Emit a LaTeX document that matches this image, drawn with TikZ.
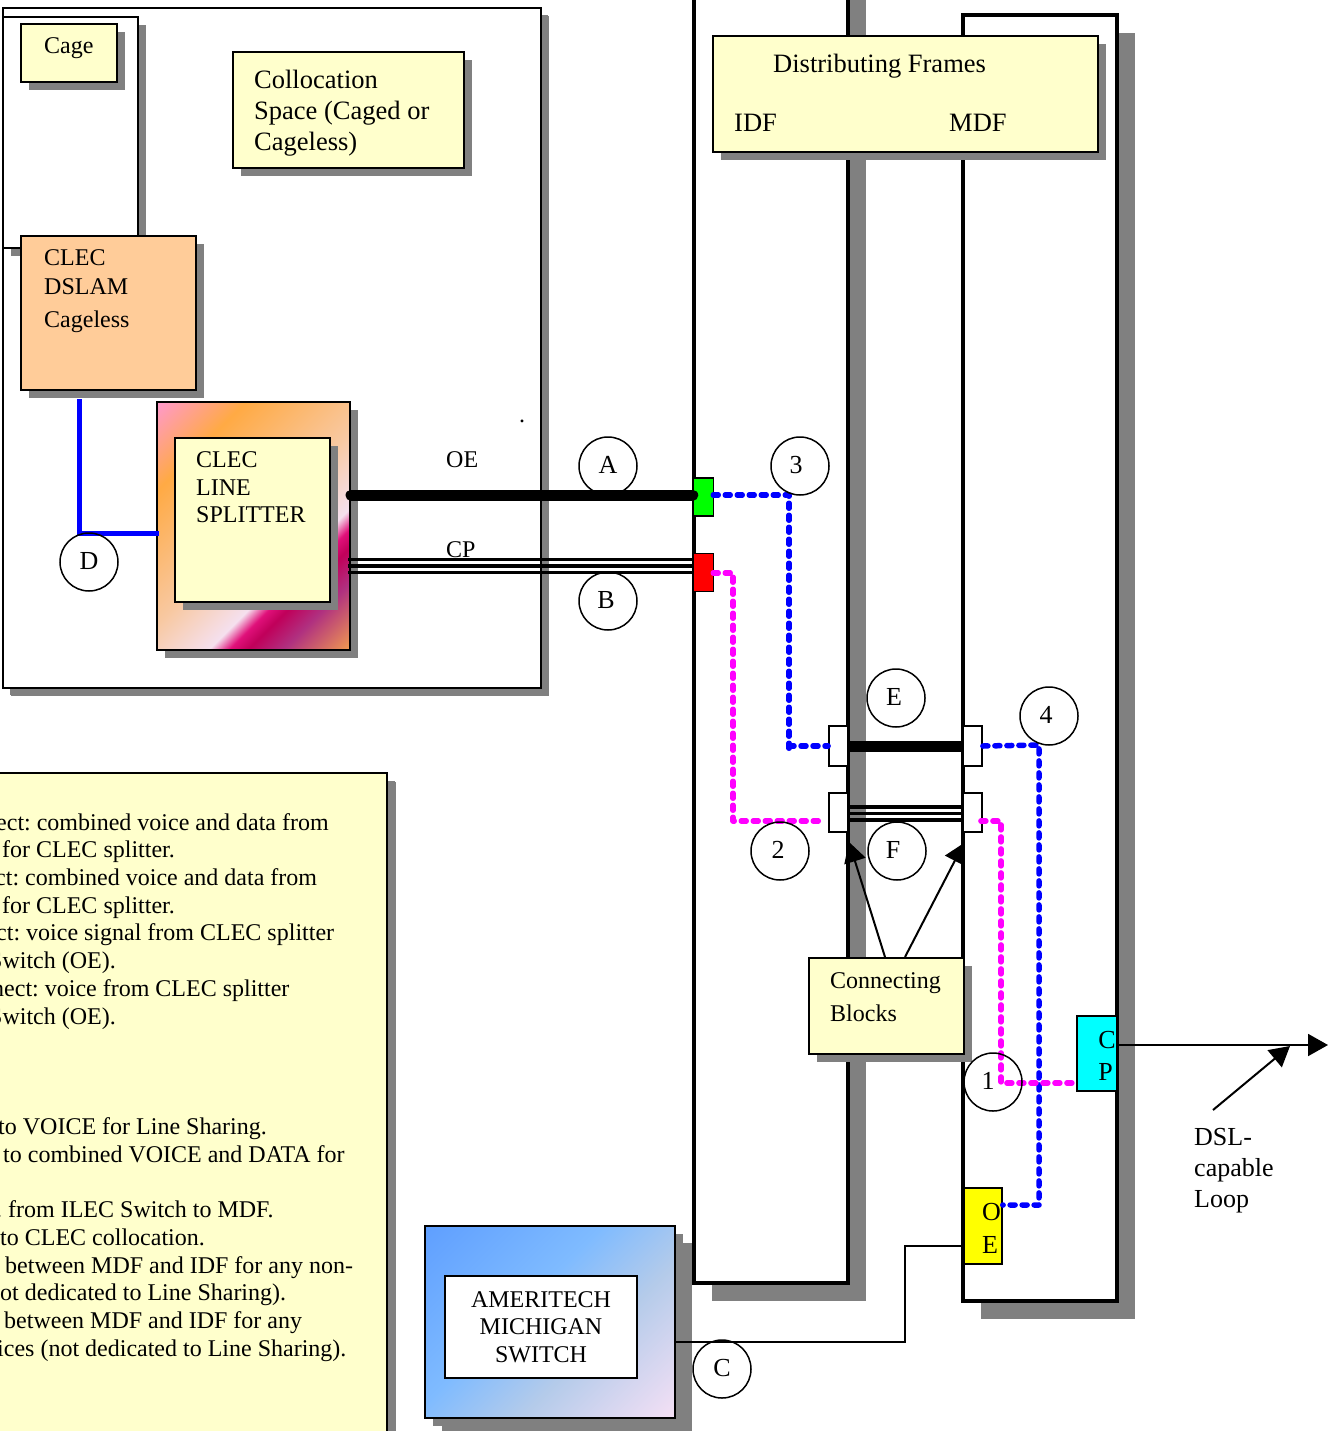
\documentclass[tikz,border=0pt]{standalone}
\usepackage{fontspec}
\setmainfont{Liberation Serif}
\usepackage{tikz}
\usetikzlibrary{arrows.meta, positioning}
\usetikzlibrary{calc, shadows}
\definecolor{NoteYellow}{HTML}{FFFFCC}
\definecolor{DslamPeach}{HTML}{FFCC99}
\definecolor{PadGreen}{HTML}{00FF00}
\definecolor{PadRed}{HTML}{FF0000}
\definecolor{PadCyan}{HTML}{00FFFF}
\definecolor{PadYellow}{HTML}{FFFF00}
\definecolor{WireBlue}{HTML}{0000FF}
\definecolor{WirePink}{HTML}{FF00FF}
\definecolor{SpA}{HTML}{FF99CC}
\definecolor{SpB}{HTML}{FFAA44}
\definecolor{SpC}{HTML}{F8C8A0}
\definecolor{SpD}{HTML}{F5E0EE}
\definecolor{SpE}{HTML}{E0107A}
\definecolor{SpF}{HTML}{C0005A}
\definecolor{SpG}{HTML}{B03080}
\definecolor{SpH}{HTML}{F09A50}
\definecolor{SwA}{HTML}{5F9FFF}
\definecolor{SwB}{HTML}{7FBBFF}
\definecolor{SwC}{HTML}{B4CBEA}
\definecolor{SwD}{HTML}{F5E0F5}
\pgfdeclarehorizontalshading{splittershade}{100bp}{
    color(0bp)=(SpA); color(14.6bp)=(SpA); color(28.7bp)=(SpB); color(50bp)=(SpC); color(62.7bp)=(SpD);
    color(66bp)=(SpE); color(69bp)=(SpF); color(74.7bp)=(SpG); color(85.4bp)=(SpH); color(100bp)=(SpH)}
\pgfdeclarehorizontalshading{switchshade}{100bp}{
    color(0bp)=(SwA); color(14.6bp)=(SwA); color(43bp)=(SwB); color(60.6bp)=(SwC); color(85.4bp)=(SwD); color(100bp)=(SwD)}
\newcommand{\marktext}[2][0]{\raisebox{3pt}{\kern#1pt #2}}

\begin{document}
\begin{tikzpicture}[
        x=1pt, y=-1pt,
        every node/.style={inner sep=0pt, font=\frenchspacing\fontsize{24}{27.5}\selectfont},
        shbox/.style={drop shadow={shadow xshift=#1, shadow yshift=-#1, opacity=1, fill=gray}},
        shbox/.default=8pt,
        box/.style={draw, line width=2pt, fill=NoteYellow, shbox},
        bar/.style={draw, line width=4pt, fill=white, shbox=18pt},
        block/.style={draw, line width=1.8pt, fill=white, minimum width=19pt},
        pinbox/.style={draw, line width=1.5pt, minimum width=20pt, minimum height=38pt},
        txt/.style={anchor=west, align=left},
        bigtxt/.style={txt, font=\fontsize{26.5}{31}\selectfont},
        markcircle/.style={draw, circle, line width=1.5pt, minimum size=58pt, font=\fontsize{26}{27}\selectfont},
        fat/.style={line width=11pt, line cap=round},
        strand/.style={line width=3.4pt},
        wire/.style={line width=2pt},
        pointer/.style={line width=2pt, -{Triangle[length=20pt, width=22pt]}},
        jumper/.style={line width=5.5pt, line cap=round, line join=round, dash pattern=on 5pt off 7pt}
    ]
        \useasboundingbox (0,0) rectangle (1329,1431);

        \node[box, fill=white, shbox=7pt, minimum width=538pt, minimum height=680pt] (room) at (272,348) {};
        \node[box, fill=white, minimum width=135pt, minimum height=231pt] (cageout) at (70.5,132.5) {};
        \node[box, minimum width=96pt, minimum height=58pt] (cage) at (69,53) {};
        \node[box, minimum width=231pt, minimum height=116pt] (colloc) at (348.5,110) {};
        \node[box, fill=DslamPeach, minimum width=175pt, minimum height=154pt] (dslam) at (108.5,313) {};
        \node[box, shading=splittershade, shading angle=-45, minimum width=193pt, minimum height=248pt] (splitout) at (253.5,526) {};
        \node[box, minimum width=155pt, minimum height=164pt] (splitin) at (252.5,520) {};

        \node[box, shbox=9pt, minimum width=397pt, minimum height=672pt] (legend) at (188.5,1109) {};
        \node[box, shbox=17pt, shading=switchshade, shading angle=-45, minimum width=250pt, minimum height=192pt] (switchout) at (550,1322) {};
        \node[draw, line width=2pt, fill=white, align=center, minimum width=192pt, minimum height=102pt] (switchin) at (541,1327) {AMERITECH\\MICHIGAN\\SWITCH};

        \node[bar, minimum width=154pt, minimum height=1303pt] (idf) at (771,631.5) {};
        \node[bar, minimum width=154pt, minimum height=1286pt] (mdf) at (1040,658) {};
        \node[box, minimum width=385pt, minimum height=116pt] (frames) at (905.5,94) {};

        \node[pinbox, fill=PadGreen] (oepin) at (703.5,497) {};
        \node[pinbox, fill=PadRed] (cppin) at (703.5,572.5) {};
        \node[block, minimum height=40pt] (blockA) at (838.5,746) {};
        \node[block, minimum height=40pt] (blockB) at (972.5,746) {};
        \node[block, minimum height=39pt] (blockC) at (838.5,812.5) {};
        \node[block, minimum height=39pt] (blockD) at (972.5,812.5) {};
        \node[draw, line width=1.5pt, fill=PadCyan, minimum width=40pt, minimum height=75pt, align=left, font=\fontsize{26}{32}\selectfont] (cpbox) at (1097,1053.5) {\hspace*{20pt}\rule{0pt}{22pt}C\\\hspace*{20pt}P};
        \node[draw, line width=1.5pt, fill=PadYellow, minimum width=38pt, minimum height=76pt, align=left, font=\fontsize{26}{33}\selectfont] (oebox) at (983,1226) {\hspace*{17pt}\rule{0pt}{22pt}O\\\hspace*{17pt}E};

        \node[txt] (cagetxt) at (44,48.5) {Cage};
        \node[bigtxt] (colloctxt) at (254,113) {Collocation\\Space (Caged or\\Cageless)};
        \node[txt, font=\fontsize{24}{29}\selectfont] (dslamtxt) at (44,291) {CLEC\\DSLAM\\[4pt]Cageless};
        \node[txt] (splittxt) at (196,487.5) {CLEC\\LINE\\SPLITTER};
        \node[bigtxt] (framestxt) at (773,66) {Distributing Frames};
        \node[bigtxt] (idftxt) at (734,123) {IDF};
        \node[bigtxt] (mdftxt) at (949,123) {MDF};
        \node[box, minimum width=155pt, minimum height=96pt] (connect) at (886.5,1006) {};
        \node[txt, font=\fontsize{24}{33}\selectfont] (blockstxt) at (830,997) {Connecting\\Blocks};
        \node[txt, font=\fontsize{26}{31}\selectfont] (dsltxt) at (1194,1170.5) {DSL-\\capable\\Loop};
        \node[txt] (oetxt) at (446,460) {OE};
        \node[txt] (cptxt) at (446,550) {CP};
        \node[txt] (dot) at (519,421) {.};

        \node[anchor=north west, align=left, font=\frenchspacing\fontsize{24}{27.7}\selectfont] (legendtxt) at (0,813) {
            \hspace*{-4pt}ect: combined voice and data from\\
            \hspace*{2pt}for CLEC splitter.\\
            \hspace*{-5pt}ct: combined voice and data from\\
            \hspace*{2pt}for CLEC splitter.\\
            \hspace*{-4pt}ct: voice signal from CLEC splitter\\
            \hspace*{-11pt}Switch (OE).\\
            \hspace*{-8pt}nect: voice from CLEC splitter\\
            \hspace*{-11pt}Switch (OE).\\[83pt]
            \hspace*{-2pt}to VOICE for Line Sharing.\\
            \hspace*{3pt}to combined VOICE and DATA for\\[27.7pt]
            \hspace*{-4pt}. from ILEC Switch to MDF.\\
            to CLEC collocation.\\
            \hspace*{5pt}between MDF and IDF for any non-\\
            ot dedicated to Line Sharing).\\
            \hspace*{4pt}between MDF and IDF for any\\
            \hspace*{-3pt}ices (not dedicated to Line Sharing).};

        \coordinate (dbend) at (79,533);
        \coordinate (bluetop) at (789,495);
        \coordinate (bluelow) at (789,752);
        \coordinate (blueright) at (1039,745);
        \coordinate (blueoe) at (1039,1205);
        \coordinate (pinktop) at (733,573);
        \coordinate (pinklow) at (733,821);
        \coordinate (pinkright) at (1001,821);
        \coordinate (pinkcp) at (1001,1083);
        \coordinate (cbendA) at (905,1342);
        \coordinate (cbendB) at (905,1246);
        \coordinate (loopend) at (1328,1045);
        \coordinate (loopfoot) at (1213,1110);
        \coordinate (looptip) at (1290,1046);
        \coordinate (tipA) at (849,842);
        \coordinate (tipB) at (964,843);

        \draw[line width=5pt, WireBlue] ($(dbend |- dslam.south)+(0,8)$) -- (dbend) -- ($(splitout.west |- dbend)+(3,0)$);
        \draw[fat] ($(splitout.east |- oepin.west)+(0,-2)$) -- ($(oepin.west)+(0,-2)$);
        \foreach \dy in {0,-6.5,-13}
            \draw[strand] ($(splitout.east |- cppin.west)+(-3,\dy)$) -- ($(cppin.west)+(0,\dy)$);
        \draw[fat, line cap=butt] (blockA.east) -- (blockB.west);
        \foreach \dy in {-5.5,1,7.5}
            \draw[strand] ($(blockC.east)+(0,\dy)$) -- ($(blockD.west)+(0,\dy)$);
        \draw[wire] (switchout.east |- cbendA) -- (cbendA) -- (cbendB) -- (oebox.west |- cbendB);
        \draw[wire, -{Triangle[length=20pt, width=22pt]}] (cpbox.east |- loopend) -- (loopend);
        \draw[pointer] (loopfoot) -- (looptip);
        \draw[pointer] ($(connect.north)+(-1.5,0)$) -- (tipA);
        \draw[pointer] ($(connect.north)+(18.5,0)$) -- (tipB);

        \draw[jumper, WireBlue] ($(oepin.east |- bluetop)+(-1,0)$) -- (bluetop) -- (bluelow);
        \draw[jumper, WireBlue] (bluelow |- blockA.west) -- (blockA.west);
        \draw[jumper, WireBlue] (blockB.east) -- (blueright) -- (blueoe) -- (oebox.east |- blueoe);
        \draw[jumper, WirePink] ($(cppin.east |- pinktop)+(-1,0)$) -- (pinktop) -- (pinklow) -- ($(blockC.west |- pinklow)+(-3,0)$);
        \draw[jumper, WirePink] ($(blockD.east |- pinkright)+(-2,0)$) -- (pinkright) -- (pinkcp) -- (cpbox.west |- pinkcp);

        \node[markcircle] (markA) at (608,466) {\marktext{A}};
        \node[markcircle] (markB) at (608,601) {\marktext[-4]{B}};
        \node[markcircle] (markC) at (722,1369) {\marktext{C}};
        \node[markcircle] (markD) at (89,562) {\marktext{D}};
        \node[markcircle] (markE) at (896,698) {\marktext[-4]{E}};
        \node[markcircle] (markF) at (897,851) {\marktext[-8]{F}};
        \node[markcircle] (mark1) at (993,1082) {\marktext[-10]{1}};
        \node[markcircle] (mark2) at (780,851) {\marktext[-4]{2}};
        \node[markcircle] (mark3) at (800,466) {\marktext[-8]{3}};
        \node[markcircle] (mark4) at (1049,716) {\marktext[-6]{4}};
    \end{tikzpicture}
\end{document}
